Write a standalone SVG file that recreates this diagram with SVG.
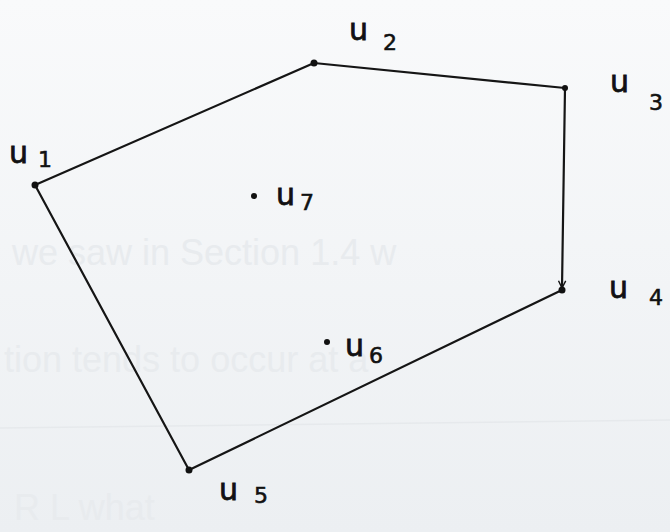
<svg xmlns="http://www.w3.org/2000/svg" width="670" height="532" viewBox="0 0 670 532">
<style>
.bg-text{font-family:"Liberation Sans",sans-serif;fill:#e8ebee;font-size:36px}
.edge{stroke:#151515;stroke-width:2.2;fill:none;stroke-linecap:round}
.dot{fill:#111}
.lbl{font-family:"DejaVu Sans",sans-serif;fill:#111;font-size:30px;stroke:#111;stroke-width:0.8}
.sub{font-family:"DejaVu Sans",sans-serif;fill:#111;font-size:22px;stroke:#111;stroke-width:0.6}
</style>
<defs>
<linearGradient id="paper" x1="0" y1="0" x2="0" y2="1">
<stop offset="0" stop-color="#f9fafb"/>
<stop offset="1" stop-color="#eceff2"/>
</linearGradient>
<marker id="arr" viewBox="0 0 10 10" refX="9" refY="5" markerWidth="9" markerHeight="9" orient="auto" markerUnits="userSpaceOnUse">
<path d="M1,1 L9,5 L1,9" fill="none" stroke="#151515" stroke-width="1.6"/>
</marker>
</defs>
<rect width="670" height="532" fill="url(#paper)"/>
<g id="background-text">
<text class="bg-text" x="12" y="265">we saw in Section 1.4 w</text>
<text class="bg-text" x="4" y="372">tion tends to occur at a</text>
<text class="bg-text" x="14" y="520">R L       what</text>
<line x1="0" y1="428" x2="670" y2="420" stroke="#e6e9ec" stroke-width="1.5"/>
</g>
<g id="edges">
<line class="edge" x1="35" y1="185" x2="314" y2="63"/>
<line class="edge" x1="314" y1="63" x2="565" y2="88"/>
<line class="edge" x1="565" y1="88" x2="562" y2="288" marker-end="url(#arr)"/>
<line class="edge" x1="562" y1="290" x2="189" y2="470"/>
<line class="edge" x1="189" y1="470" x2="35" y2="185"/>
</g>
<g id="u1"><circle class="dot" cx="35" cy="185" r="3.5"/><text class="lbl" x="9" y="163">u</text><text class="sub" x="38" y="167">1</text></g>
<g id="u2"><circle class="dot" cx="314" cy="63" r="3.5"/><text class="lbl" x="349" y="40">u</text><text class="sub" x="383" y="50">2</text></g>
<g id="u3"><circle class="dot" cx="565" cy="88" r="3"/><text class="lbl" x="610" y="92">u</text><text class="sub" x="649" y="110">3</text></g>
<g id="u4"><circle class="dot" cx="562" cy="290" r="3.5"/><text class="lbl" x="609" y="298">u</text><text class="sub" x="649" y="305">4</text></g>
<g id="u5"><circle class="dot" cx="189" cy="470" r="3.5"/><text class="lbl" x="219" y="500">u</text><text class="sub" x="254" y="503">5</text></g>
<g id="u6"><circle class="dot" cx="327" cy="342" r="3"/><text class="lbl" x="345" y="356">u</text><text class="sub" x="369" y="363">6</text></g>
<g id="u7"><circle class="dot" cx="254" cy="196" r="3"/><text class="lbl" x="276" y="205">u</text><text class="sub" x="300" y="210">7</text></g>
</svg>
